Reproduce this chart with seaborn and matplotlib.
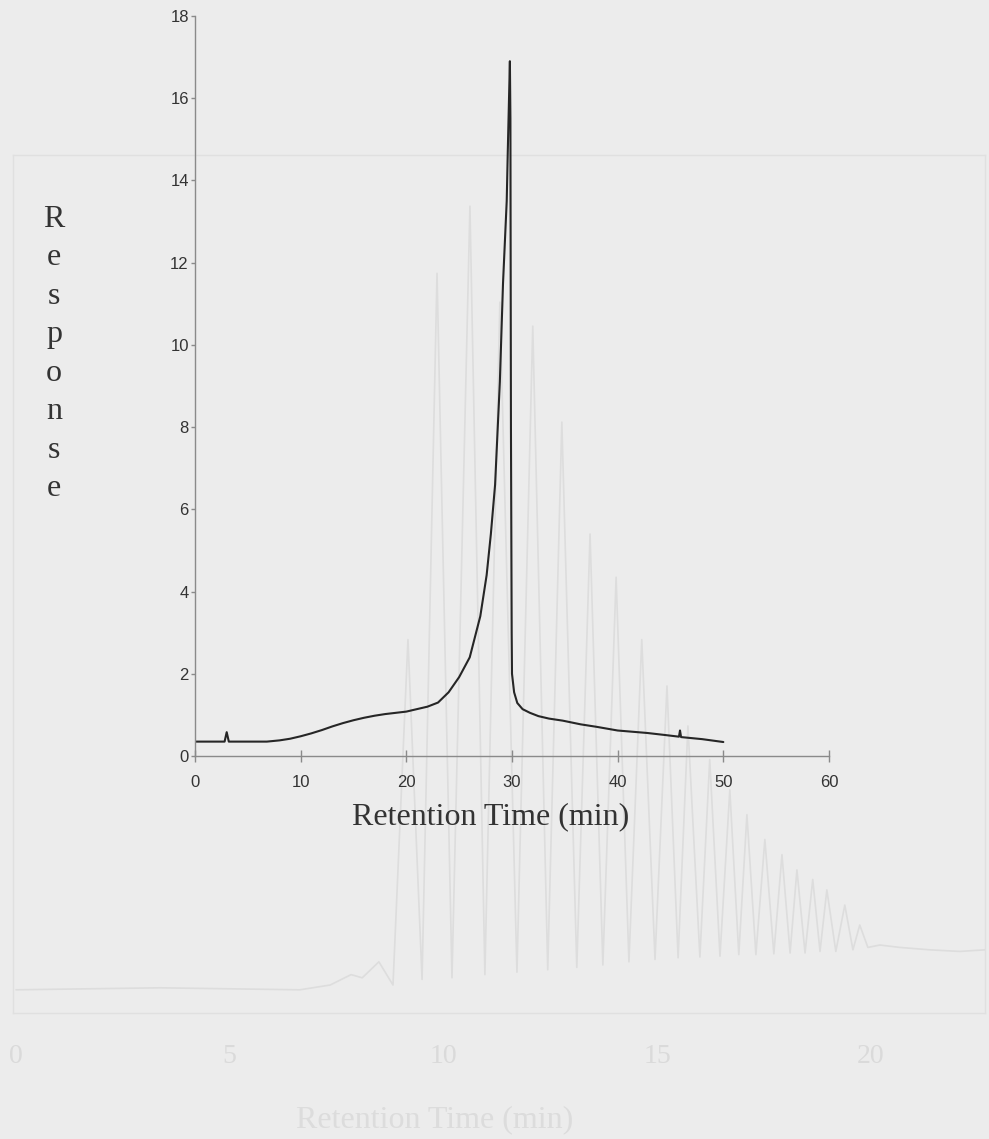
import numpy as np
import pandas as pd
import seaborn as sns
import matplotlib.pyplot as plt

# main chromatogram (retention time in min, response)
rt = [0, 2.8, 3.0, 3.2, 6.8, 8, 9, 10, 11, 12, 13, 14, 15, 16, 17, 18, 19, 20,
      21, 22, 23, 24, 25, 26, 27, 27.3, 27.6, 28.0, 28.4, 28.85, 29.15, 29.5,
      29.6, 29.8, 29.85, 29.9, 29.97, 30.0, 30.2, 30.5, 31.0, 31.7, 32.5, 33.5,
      34.8, 36.5, 38.0, 40.0, 42.8, 44.5, 45.8, 45.9, 46.0, 48.0, 50.0]
response = [0.35, 0.35, 0.58, 0.35, 0.35, 0.38, 0.42, 0.48, 0.55, 0.63, 0.72,
            0.80, 0.87, 0.93, 0.98, 1.02, 1.05, 1.08, 1.14, 1.20, 1.30, 1.55,
            1.92, 2.40, 3.40, 3.90, 4.40, 5.40, 6.60, 9.10, 11.50, 13.50, 14.70,
            16.90, 15.50, 8.00, 3.00, 2.00, 1.55, 1.29, 1.14, 1.05, 0.97, 0.91,
            0.86, 0.77, 0.71, 0.62, 0.56, 0.51, 0.47, 0.62, 0.46, 0.41, 0.34]

# faint bleed-through chromatogram from the back of the page
ghost_rt = [0, 3.37, 6.64, 7.35, 7.84, 8.1, 8.49, 8.82, 9.17, 9.5, 9.85, 10.2,
            10.62, 10.97, 11.32, 11.72, 12.09, 12.44, 12.77, 13.12, 13.43, 13.73,
            14.04, 14.34, 14.64, 14.95, 15.23, 15.49, 15.72, 16.0, 16.23, 16.47,
            16.70, 16.91, 17.10, 17.31, 17.52, 17.73, 17.92, 18.11, 18.27, 18.46,
            18.64, 18.81, 18.97, 19.18, 19.39, 19.58, 19.74, 19.93, 20.21, 20.68,
            21.38, 22.08, 22.67]
ghost_resp = [0, 0.25, 0, 0.6, 1.9, 1.5, 3.5, 0.6, 43.8, 1.3, 89.6, 1.5, 98,
              1.9, 86, 2.2, 83, 2.5, 71, 2.8, 57, 3.1, 51.6, 3.5, 43.8, 3.8, 38,
              4.0, 33, 4.1, 28.8, 4.2, 25, 4.4, 21.9, 4.4, 18.8, 4.5, 16.9, 4.6,
              15, 4.6, 13.8, 4.8, 12.5, 4.8, 10.6, 5.0, 8.1, 5.3, 5.6, 5.3, 5.0,
              4.8, 5.0]

x_ticks = [0, 10, 20, 30, 40, 50, 60]
y_ticks = [0, 2, 4, 6, 8, 10, 12, 14, 16, 18]
ghost_ticks = [0, 5, 10, 15, 20]

df = pd.DataFrame({"rt": rt, "response": response})
gdf = pd.DataFrame({"rt": ghost_rt, "response": ghost_resp})

sns.set_theme(style="ticks")
plt.rcParams["font.family"] = ["Liberation Sans", "DejaVu Sans"]

bg = "#ececec"
fig = plt.figure(figsize=(9.89, 11.39), dpi=100, facecolor=bg)

# ghost layer
gax = fig.add_axes([13 / 989, 1 - 1013 / 1139, 972 / 989, 858 / 1139])
gax.set_facecolor(bg)
sns.lineplot(data=gdf, x="rt", y="response", ax=gax, color="#dddddd",
             linewidth=1.2, estimator=None, sort=False)
gax.set_xlim(-0.07, 22.67)
gax.set_ylim(-2.9, 104.4)
gax.set_xticks(ghost_ticks)
gax.set_yticks([])
gax.tick_params(axis="x", length=0, pad=22, labelsize=20, labelcolor="#dadada")
for lbl in gax.get_xticklabels():
    lbl.set_family("Liberation Serif")
for s in gax.spines.values():
    s.set_color("#e0e0e0")
    s.set_linewidth(1.0)
gax.set_ylabel("")
gax.set_xlabel("Retention Time (min)", fontsize=23, family="Liberation Serif",
               color="#dcdcdc")
gax.xaxis.set_label_coords(0.434, -0.108)

# main chart
ax = fig.add_axes([195 / 989, 1 - 756 / 1139, 634 / 989, 740 / 1139])
ax.patch.set_alpha(0)
sns.lineplot(data=df, x="rt", y="response", ax=ax, color="#262626",
             linewidth=1.5, estimator=None, sort=False)
ax.set_xlim(0, 60)
ax.set_ylim(0, 18)
ax.set_xticks(x_ticks)
ax.set_yticks(y_ticks)
sns.despine(ax=ax)
for side in ["left", "bottom"]:
    ax.spines[side].set_color("#8a8a8a")
    ax.spines[side].set_linewidth(1.0)
ax.tick_params(axis="x", direction="inout", length=9, width=1.0,
               color="#8a8a8a", pad=9, labelsize=12, labelcolor="#333333")
ax.tick_params(axis="y", direction="out", length=3, width=1.0,
               color="#8a8a8a", pad=1.5, labelsize=12, labelcolor="#333333")
for lbl in ax.get_xticklabels() + ax.get_yticklabels():
    lbl.set_family(["Liberation Sans Narrow", "Liberation Sans"])

ax.set_xlabel("Retention Time (min)", fontsize=23, family="Liberation Serif",
              color="#333333")
ax.xaxis.set_label_coords(0.467, -0.062)
ax.set_ylabel("R\ne\ns\np\no\nn\ns\ne", rotation=0, fontsize=23,
              family="Liberation Serif", color="#333333", linespacing=1.43,
              ha="center", va="center")
ax.yaxis.set_label_coords((54 - 195) / 634, (756 - 354) / 740)

fig.savefig("out.png", dpi=100, facecolor=bg)
